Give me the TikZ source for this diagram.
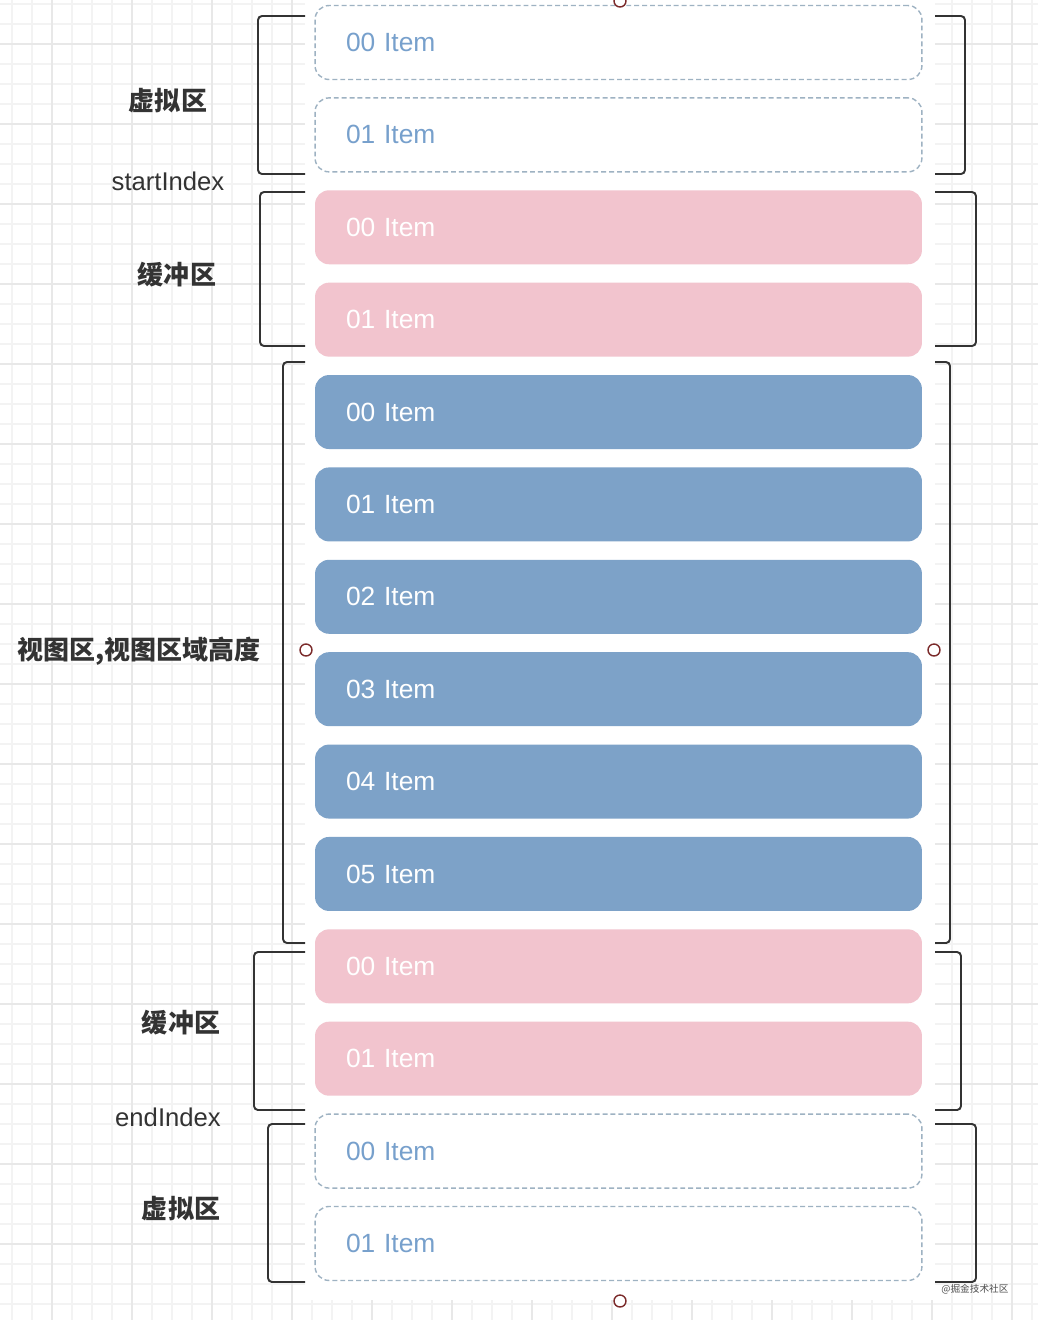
\documentclass[tikz,border=0pt]{standalone}
\usepackage{fontspec}
\setmainfont{Liberation Sans}
\newfontfamily\cjk{Noto Sans CJK SC}
\usepackage{xcolor}
\usetikzlibrary{positioning}

\definecolor{viewblue}{HTML}{7DA2C8}
\definecolor{bufpink}{HTML}{F2C4CE}
\definecolor{dashgray}{HTML}{9EB2C2}
\definecolor{itemblue}{HTML}{77A0CC}
\definecolor{labelgray}{HTML}{333333}
\definecolor{handlered}{HTML}{7B2B2B}
\definecolor{gridlight}{HTML}{F3F3F3}
\definecolor{gridmid}{HTML}{E8E8E8}

\begin{document}
\begin{tikzpicture}[
        x=0.02cm, y=-0.02cm,
        node distance=0.368cm,
        item/.style={rectangle, rounded corners=0.28cm, minimum width=12.14cm, minimum height=1.48cm, text width=10.9cm, inner xsep=0.62cm, inner ysep=0pt, outer sep=0pt, align=left, font=\fontsize{15}{18}\selectfont},
        virt/.style={item, draw=dashgray, dash pattern=on 2.8pt off 1.7pt, line width=0.8pt, fill=white, text=itemblue},
        buf/.style={item, fill=bufpink, text=white},
        view/.style={item, fill=viewblue, text=white},
        zone/.style={font=\cjk\bfseries\fontsize{14.8}{17}\selectfont, text=labelgray},
        idx/.style={font=\fontsize{14.6}{17}\selectfont, text=labelgray},
        bracket/.style={draw=labelgray, line width=1.1pt, rounded corners=0.08cm},
        handle/.style={circle, draw=handlered, line width=0.8pt, fill=white, minimum size=0.24cm, inner sep=0pt},
        gridline/.style={draw=gridlight, line width=1pt},
        gridmajor/.style={draw=gridmid, line width=1pt}
    ]

    \useasboundingbox (0,0) rectangle (1038,1320);

    % Raster
    \begin{scope}
        \clip (0,0) rectangle (1038,1320);
        \foreach \gx in {12,32,...,1032} \draw[gridline] (\gx,0) -- (\gx,1320);
        \foreach \gy in {4,24,...,1320} \draw[gridline] (0,\gy) -- (1038,\gy);
        \foreach \gx in {52,132,...,1032} \draw[gridmajor] (\gx,0) -- (\gx,1320);
        \foreach \gy in {44,124,...,1320} \draw[gridmajor] (0,\gy) -- (1038,\gy);
    \end{scope}

    % Panel
    \fill[white] (305,0) rectangle (935,1300);

    % Virtuell oben
    \node (virt_top0) [virt] at (618.5,42.5) {00 Item};
    \node (virt_top1) [virt, below=of virt_top0] {01 Item};

    % Puffer oben
    \node (buf_top0) [buf, below=of virt_top1] {00 Item};
    \node (buf_top1) [buf, below=of buf_top0] {01 Item};

    % Sichtbereich
    \node (view0) [view, below=of buf_top1] {00 Item};
    \node (view1) [view, below=of view0] {01 Item};
    \node (view2) [view, below=of view1] {02 Item};
    \node (view3) [view, below=of view2] {03 Item};
    \node (view4) [view, below=of view3] {04 Item};
    \node (view5) [view, below=of view4] {05 Item};

    % Puffer unten
    \node (buf_bot0) [buf, below=of view5] {00 Item};
    \node (buf_bot1) [buf, below=of buf_bot0] {01 Item};

    % Virtuell unten
    \node (virt_bot0) [virt, below=of buf_bot1] {00 Item};
    \node (virt_bot1) [virt, below=of virt_bot0] {01 Item};

    % Klammern links
    \draw[bracket] (305,16) -- (258,16) -- (258,174) -- (305,174);
    \draw[bracket] (305,192) -- (260,192) -- (260,346) -- (305,346);
    \draw[bracket] (305,362) -- (283,362) -- (283,943) -- (305,943);
    \draw[bracket] (305,952) -- (254,952) -- (254,1110) -- (305,1110);
    \draw[bracket] (305,1124) -- (268,1124) -- (268,1282) -- (305,1282);

    % Klammern rechts
    \draw[bracket] (935,16) -- (965,16) -- (965,174) -- (935,174);
    \draw[bracket] (935,192) -- (976,192) -- (976,346) -- (935,346);
    \draw[bracket] (935,362) -- (950,362) -- (950,943) -- (935,943);
    \draw[bracket] (935,952) -- (961,952) -- (961,1110) -- (935,1110);
    \draw[bracket] (935,1124) -- (976,1124) -- (976,1282) -- (935,1282);

    % Beschriftung
    \node (lbl_virt_top) [zone] at (168,101) {虚拟区};
    \node (lbl_start) [idx] at (168,181) {startIndex};
    \node (lbl_buf_top) [zone] at (177,275) {缓冲区};
    \node (lbl_view) [zone] at (139,651) {视图区,视图区域高度};
    \node (lbl_buf_bot) [zone] at (181,1023) {缓冲区};
    \node (lbl_end) [idx] at (168,1117) {endIndex};
    \node (lbl_virt_bot) [zone] at (181,1209) {虚拟区};

    % Griffe
    \node (handle_top) [handle] at (620,1) {};
    \node (handle_left) [handle] at (306,650) {};
    \node (handle_right) [handle] at (934,650) {};
    \node (handle_bot) [handle] at (620,1301) {};

    \node (mark) [font=\cjk\fontsize{5.5}{6}\selectfont, text=black!70] at (975,1289) {@掘金技术社区};

\end{tikzpicture}
\end{document}
